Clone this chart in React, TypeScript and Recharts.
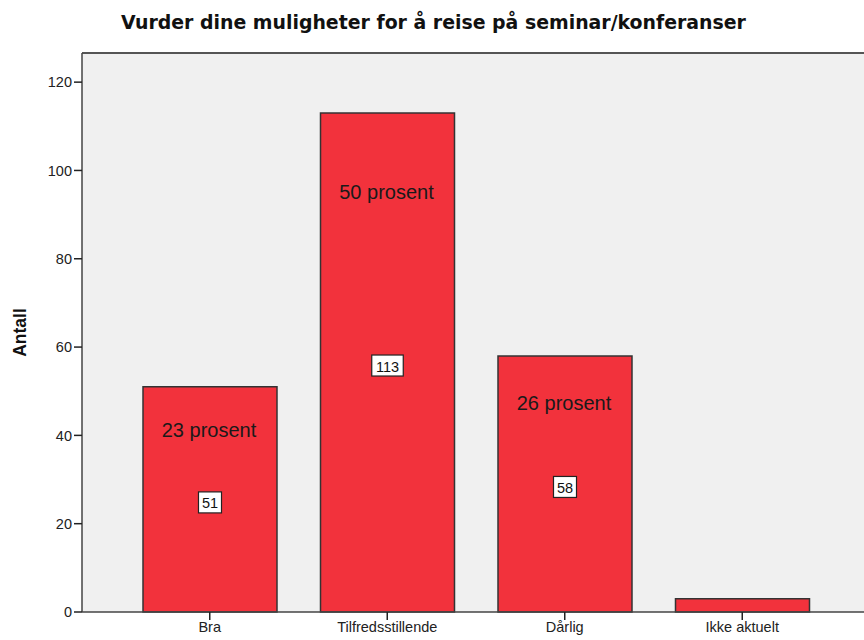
import { Bar, BarChart, CartesianGrid, LabelList, ReferenceLine, XAxis, YAxis } from "recharts";

const categories = ["Bra", "Tilfredsstillende", "Dårlig", "Ikke aktuelt"];
const counts = [51, 113, 58, 3];
const percents: (number | null)[] = [23, 50, 26, null];
const yTicks = [0, 20, 40, 60, 80, 100, 120];
const Y_MAX = 126.6;

const FONT = "'Liberation Sans', Arial, sans-serif";
const RED = "#f2323c";

const data = categories.map((name, i) => ({
  name,
  antall: counts[i],
  prosent: percents[i],
}));

function PercentLabel(props: any) {
  const { x, y, width, height, index } = props;
  const p = percents[index];
  if (p == null) return null;
  return (
    <text
      x={x + width / 2 - 1}
      y={y + height * 0.13 + 14}
      textAnchor="middle"
      dominantBaseline="central"
      fontFamily={FONT}
      fontSize={20}
      fill="#1a1a1a"
    >
      {`${p} prosent`}
    </text>
  );
}

function CountLabel(props: any) {
  const { x, y, width, height, index } = props;
  if (percents[index] == null) return null;
  const txt = String(counts[index]);
  const w = txt.length * 8.5 + 6;
  const cx = x + width / 2;
  const cy = y + height / 2 + 3;
  return (
    <g>
      <rect x={cx - w / 2} y={cy - 10.5} width={w} height={21} fill="#fff" stroke="#222" strokeWidth={1.2} />
      <text x={cx} y={cy + 1} textAnchor="middle" dominantBaseline="central" fontFamily={FONT} fontSize={14.5} fill="#111">
        {txt}
      </text>
    </g>
  );
}

export default function App() {
  return (
    <div style={{ position: "fixed", left: 0, top: 0, width: 864, height: 640, overflow: "hidden", background: "#fff" }}>
      <div
        style={{
          position: "absolute",
          top: 10,
          left: 0,
          width: 867,
          textAlign: "center",
          fontFamily: "'DejaVu Sans', sans-serif",
          fontWeight: "bold",
          fontSize: 18.9,
          lineHeight: "24px",
          color: "#111",
        }}
      >
        Vurder dine muligheter for å reise på seminar/konferanser
      </div>
      <BarChart
        width={880}
        height={640}
        data={data}
        margin={{ top: 53, right: 10, left: 22, bottom: 0 }}
        barCategoryGap={22}
      >
        <CartesianGrid fill="#f0f0f0" horizontal={false} vertical={false} />
        <XAxis
          dataKey="name"
          padding={{ left: 39, right: 39 }}
          axisLine={{ stroke: "#444", strokeWidth: 1.5 }}
          tickLine={{ stroke: "#222", strokeWidth: 1.5 }}
          tickSize={8}
          tick={{ fill: "#222", fontSize: 14.5, fontFamily: FONT }}
          interval={0}
          height={28}
        />
        <YAxis
          domain={[0, Y_MAX]}
          ticks={yTicks}
          width={60}
          axisLine={{ stroke: "#444", strokeWidth: 1.5 }}
          tickLine={{ stroke: "#222", strokeWidth: 1.5 }}
          tickSize={8}
          tick={{ fill: "#222", fontSize: 14.5, fontFamily: FONT }}
          label={{
            value: "Antall",
            angle: -90,
            position: "insideLeft",
            offset: -2,
            style: { fontFamily: FONT, fontWeight: "bold", fontSize: 17.5, fill: "#111", textAnchor: "middle" },
          }}
        />
        <ReferenceLine y={Y_MAX} stroke="#555" strokeWidth={2} />
        <Bar dataKey="antall" fill={RED} stroke="#333" strokeWidth={1.5} isAnimationActive={false}>
          <LabelList dataKey="prosent" content={<PercentLabel />} />
          <LabelList dataKey="antall" content={<CountLabel />} />
        </Bar>
      </BarChart>
    </div>
  );
}
